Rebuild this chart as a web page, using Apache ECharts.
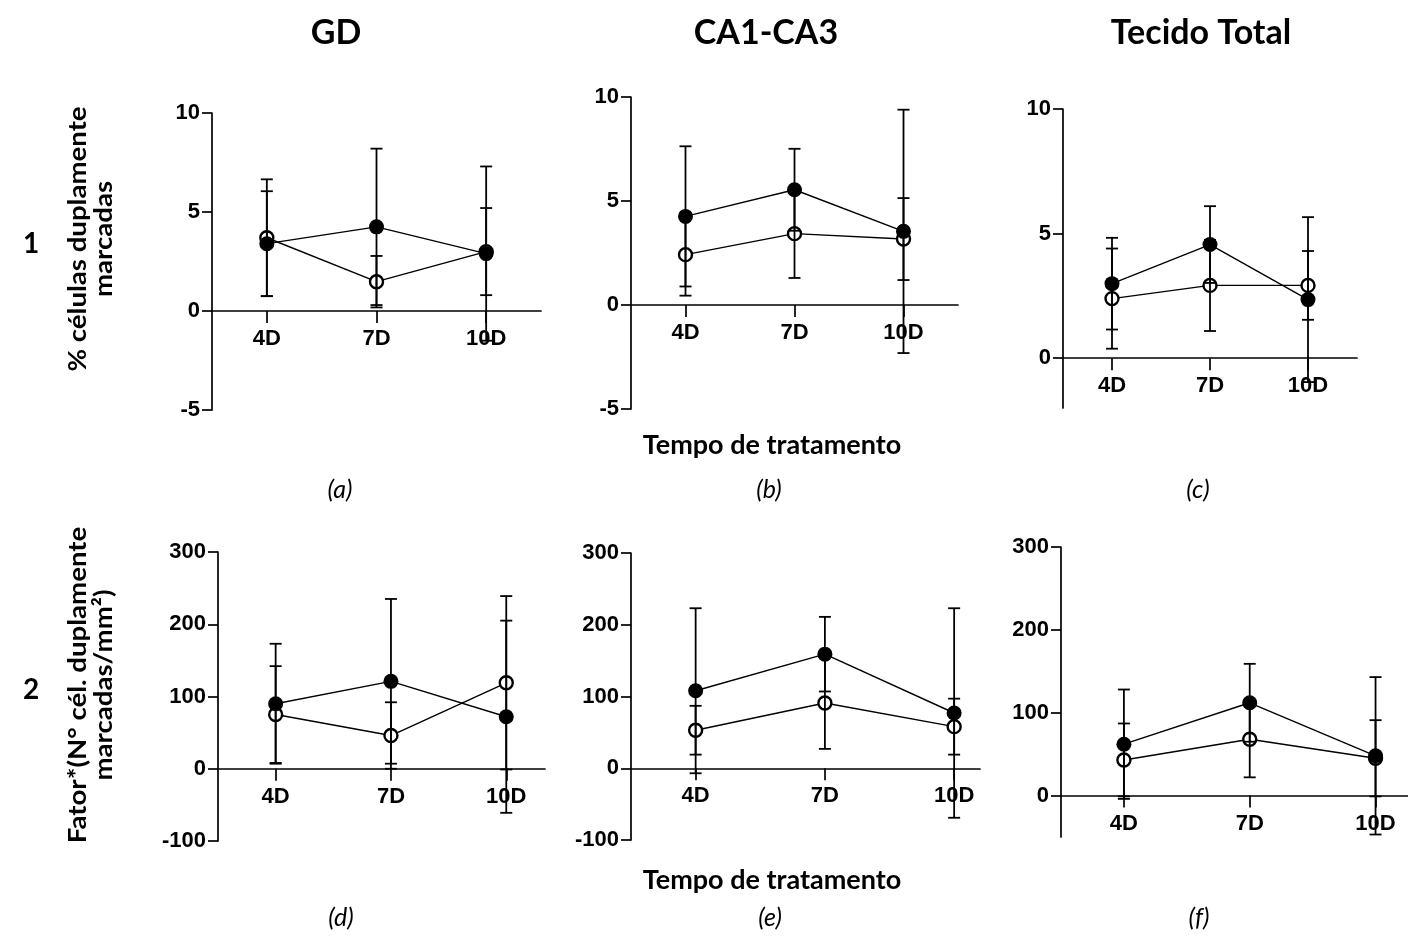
<!DOCTYPE html>
<html>
<head>
<meta charset="utf-8">
<script src="https://cdn.jsdelivr.net/npm/echarts@6/dist/echarts.min.js"></script>
<style>
  html, body { margin: 0; padding: 0; background: #fff; }
  #chart { width: 1408px; height: 936px; }
</style>
</head>
<body>
<div id="chart"></div>
<script>
const days = ['4D', '7D', '10D'];

// linha 1: % células duplamente marcadas (média e erro)
const gdPctFilled = [3.4, 4.25, 2.9];
const gdPctFilledErr = [2.65, 3.95, 4.4];
const gdPctOpen = [3.7, 1.48, 3.0];
const gdPctOpenErr = [2.95, 1.3, 2.2];

const caPctFilled = [4.26, 5.54, 3.54];
const caPctFilledErr = [3.37, 1.97, 5.85];
const caPctOpen = [2.42, 3.43, 3.17];
const caPctOpenErr = [1.97, 2.13, 1.97];

const totPctFilled = [2.99, 4.56, 2.35];
const totPctFilledErr = [1.84, 1.54, 3.31];
const totPctOpen = [2.39, 2.92, 2.92];
const totPctOpenErr = [2.01, 1.83, 1.38];

// linha 2: Fator*(N° cél. duplamente marcadas/mm²)
const gdFatFilled = [90, 121, 72];
const gdFatFilledErr = [83, 114, 133];
const gdFatOpen = [75, 46, 119];
const gdFatOpenErr = [67, 46, 120];

const caFatFilled = [108, 159, 77];
const caFatFilledErr = [115, 52, 146];
const caFatOpen = [53, 91, 58];
const caFatOpenErr = [34, 64, 39];

const totFatFilled = [62, 112, 48];
const totFatFilledErr = [66, 47, 95];
const totFatOpen = [43, 68, 45];
const totFatOpenErr = [44, 46, 46];

// tick labels
const pctTicks = [-5, 0, 5, 10];
const pctTicksTot = [0, 5, 10];
const fatTicks = [-100, 0, 100, 200, 300];
const fatTicksTot = [0, 100, 200, 300];

const panels = [
  { grid: { left: 212, top: 113, width: 329, height: 297 }, xMax: 2.5, yMin: -5, yMax: 10, ticks: pctTicks,
    filled: gdPctFilled, filledErr: gdPctFilledErr, open: gdPctOpen, openErr: gdPctOpenErr },
  { grid: { left: 631, top: 97, width: 327, height: 312 }, xMax: 2.5, yMin: -5, yMax: 10, ticks: pctTicks,
    filled: caPctFilled, filledErr: caPctFilledErr, open: caPctOpen, openErr: caPctOpenErr },
  { grid: { left: 1063, top: 109, width: 294, height: 299 }, xMax: 2.5, yMin: -2, yMax: 10, ticks: pctTicksTot,
    filled: totPctFilled, filledErr: totPctFilledErr, open: totPctOpen, openErr: totPctOpenErr },
  { grid: { left: 218, top: 552, width: 327, height: 289 }, xMax: 2.336, yMin: -100, yMax: 300, ticks: fatTicks,
    filled: gdFatFilled, filledErr: gdFatFilledErr, open: gdFatOpen, openErr: gdFatOpenErr },
  { grid: { left: 631, top: 553, width: 349, height: 287 }, xMax: 2.2, yMin: -100, yMax: 300, ticks: fatTicks,
    filled: caFatFilled, filledErr: caFatFilledErr, open: caFatOpen, openErr: caFatOpenErr },
  { grid: { left: 1061, top: 547, width: 347, height: 290 }, xMax: 2.258, yMin: -50, yMax: 300, ticks: fatTicksTot,
    filled: totFatFilled, filledErr: totFatFilledErr, open: totFatOpen, openErr: totFatOpenErr }
];

const axisFont = { color: '#000', fontFamily: 'Liberation Sans', fontWeight: 'bold', fontSize: 22 };
const axisStroke = { color: '#000', width: 1.7 };

function errorBars(idx, means, errs) {
  return {
    type: 'custom',
    xAxisIndex: idx,
    yAxisIndex: idx,
    z: 5,
    clip: false,
    silent: true,
    encode: { x: 0, y: [1, 2] },
    data: means.map((m, i) => [i, m - errs[i], m + errs[i]]),
    renderItem: function (params, api) {
      const top = api.coord([api.value(0), api.value(2)]);
      const bot = api.coord([api.value(0), api.value(1)]);
      const hw = 6;
      const st = { stroke: '#000', lineWidth: 1.8 };
      return {
        type: 'group',
        children: [
          { type: 'line', shape: { x1: top[0], y1: top[1], x2: bot[0], y2: bot[1] }, style: st },
          { type: 'line', shape: { x1: top[0] - hw, y1: top[1], x2: top[0] + hw, y2: top[1] }, style: st },
          { type: 'line', shape: { x1: bot[0] - hw, y1: bot[1], x2: bot[0] + hw, y2: bot[1] }, style: st }
        ]
      };
    }
  };
}

const grids = [], xAxes = [], yAxes = [], series = [];
panels.forEach((p, i) => {
  grids.push(p.grid);
  // labels sit under the zero line, not under the grid bottom
  const zeroOffset = Math.round((0 - p.yMin) / (p.yMax - p.yMin) * p.grid.height);
  xAxes.push({
    type: 'value', gridIndex: i, min: -0.5, max: p.xMax,
    axisLine: { show: true, onZero: true, lineStyle: axisStroke },
    axisTick: { show: true, length: 12, customValues: [0, 1, 2], lineStyle: axisStroke },
    axisLabel: Object.assign({ margin: 17 - zeroOffset, customValues: [0, 1, 2], formatter: v => days[Math.round(v)] }, axisFont),
    splitLine: { show: false }
  });
  yAxes.push({
    type: 'value', gridIndex: i, min: p.yMin, max: p.yMax,
    axisLine: { show: true, onZero: false, lineStyle: axisStroke },
    axisTick: { show: true, length: 10, customValues: p.ticks, lineStyle: axisStroke },
    axisLabel: Object.assign({ margin: 12, customValues: p.ticks }, axisFont),
    splitLine: { show: false }
  });
  series.push({
    type: 'line', xAxisIndex: i, yAxisIndex: i, z: 3,
    data: p.open.map((v, k) => [k, v]),
    symbol: 'circle', symbolSize: 13,
    lineStyle: { color: '#000', width: 1.4 },
    itemStyle: { color: '#fff', borderColor: '#000', borderWidth: 2.4 }
  });
  series.push({
    type: 'line', xAxisIndex: i, yAxisIndex: i, z: 4,
    data: p.filled.map((v, k) => [k, v]),
    symbol: 'circle', symbolSize: 15,
    lineStyle: { color: '#000', width: 1.4 },
    itemStyle: { color: '#000' }
  });
  series.push(errorBars(i, p.filled, p.filledErr));
  series.push(errorBars(i, p.open, p.openErr));
});

function label(text, x, y, size, extra) {
  extra = extra || {};
  return {
    type: 'text', x: x, y: y, rotation: extra.rotation || 0, scaleX: extra.scaleX || 1,
    style: {
      text: text, fill: '#000', fontFamily: 'Lato', fontWeight: extra.italic ? 'normal' : 'bold', fontSize: size,
      fontStyle: extra.italic ? 'italic' : 'normal',
      textAlign: 'center', textVerticalAlign: 'middle', lineHeight: extra.lineHeight || size
    }
  };
}

const texts = [
  label('GD', 336, 33, 34),
  label('CA1-CA3', 766, 33, 34),
  label('Tecido Total', 1201, 33, 34),
  label('1', 31, 244, 28),
  label('2', 31, 690, 28),
  label('% células duplamente\nmarcadas', 91, 239, 24, { rotation: Math.PI / 2, lineHeight: 26, scaleX: 1.15 }),
  label('Fator*(N° cél. duplamente\nmarcadas/mm²)', 91, 685, 24, { rotation: Math.PI / 2, lineHeight: 26, scaleX: 1.15 }),
  label('Tempo de tratamento', 772, 445, 27),
  label('Tempo de tratamento', 772, 880, 27),
  label('(a)', 340, 490, 25, { italic: true }),
  label('(b)', 769, 490, 25, { italic: true }),
  label('(c)', 1198, 490, 25, { italic: true }),
  label('(d)', 341, 918, 25, { italic: true }),
  label('(e)', 770, 918, 25, { italic: true }),
  label('(f)', 1199, 918, 25, { italic: true })
];

const chart = echarts.init(document.getElementById('chart'));
chart.setOption({
  backgroundColor: '#fff',
  animation: false,
  grid: grids,
  xAxis: xAxes,
  yAxis: yAxes,
  series: series,
  graphic: texts
});
</script>
</body>
</html>
